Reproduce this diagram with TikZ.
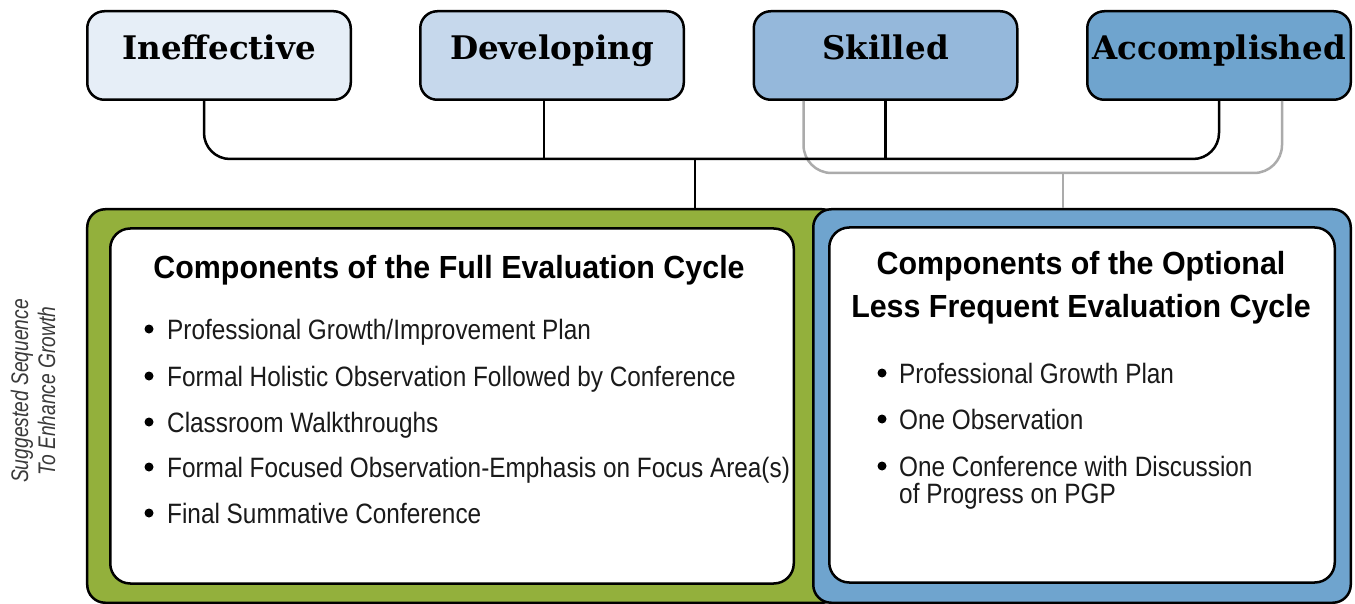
\documentclass[tikz,border=0pt]{standalone}
\usepackage{fontspec}
\newfontfamily\slabfont{DejaVu Serif}
\newfontfamily\titlefont[FakeStretch=0.95]{Liberation Sans}
\newfontfamily\bodyfont[FakeStretch=0.87]{Liberation Sans}
\newfontfamily\sidefont[FakeStretch=0.8]{Liberation Sans}
\definecolor{cIneff}{HTML}{E6EEF7}
\definecolor{cDev}{HTML}{C6D8EC}
\definecolor{cSkill}{HTML}{95B8DB}
\definecolor{cAcc}{HTML}{6FA4CE}
\definecolor{cGreen}{HTML}{93B03C}
\definecolor{cBlue}{HTML}{6FA4CE}
\definecolor{cGray}{HTML}{ABABAB}
\definecolor{cSide}{HTML}{3A3A3A}
\definecolor{cBody}{HTML}{1A1A1A}
\tikzset{
  levelbox/.style={draw=black, line width=2.5pt, rounded corners=17pt,
    minimum width=263.5pt, minimum height=88.5pt, inner sep=0pt},
  levellabel/.style={font=\slabfont\bfseries\fontsize{32.5}{32.5}\selectfont, anchor=base, inner sep=0pt},
  outerbox/.style={draw=black, line width=2.5pt, rounded corners=18pt, minimum height=393.5pt, inner sep=0pt},
  innerbox/.style={draw=black, fill=white, line width=2.5pt, rounded corners=20pt, minimum height=355pt, inner sep=0pt},
  titletext/.style={font=\titlefont\bfseries\fontsize{32}{32}\selectfont, anchor=base, inner sep=0pt},
  itemtext/.style={font=\bodyfont\fontsize{28}{28}\selectfont, text=cBody, anchor=base west, inner sep=0pt},
  blackconn/.style={draw=black, line width=2.5pt},
  grayconn/.style={draw=cGray, line width=2.5pt},
  bulletdot/.style={fill=black}
}
\begin{document}
\begin{tikzpicture}[x=1pt,y=-1pt]
\useasboundingbox[fill=white] (0,0) rectangle (1355,604);

% level boxes
\node[levelbox, fill=cIneff] (ineff) at (219,55.5) {};
\node[levelbox, fill=cDev] (dev) at (552,55.5) {};
\node[levelbox, fill=cSkill] (skill) at (885.5,55.5) {};
\node[levelbox, fill=cAcc] (acc) at (1219,55.5) {};
\node[levellabel] (ineffL) at (219,60) {Ineffective};
\node[levellabel] (devL) at (552,60) {Developing};
\node[levellabel] (skillL) at (885.5,60) {Skilled};
\node[levellabel] (accL) at (1219,60) {Accomplished};

% outer boxes
\node[outerbox, fill=cGreen, minimum width=752.75pt] (fullO) at (463.6,406) {};
\node[outerbox, fill=cBlue, minimum width=537.5pt] (lessO) at (1082,406) {};
\node[innerbox, minimum width=683.5pt] (fullI) at (452,406) {};
\node[innerbox, minimum width=505.5pt] (lessI) at (1082,405) {};

% connectors
\coordinate (gbar) at (1063,173);
\coordinate (bar) at (695,159);
\draw[grayconn, rounded corners=28pt] ([xshift=-82pt]skill.south) |- (gbar) -| ([xshift=63pt]acc.south);
\draw[grayconn] (gbar) -- (gbar |- lessO.north);
\draw[blackconn, rounded corners=26pt] ([xshift=-15pt]ineff.south) |- (bar) -| (acc.south);
\draw[blackconn] ([xshift=-8pt]dev.south) -- ([xshift=-8pt]dev.south |- bar);
\draw[blackconn] (skill.south) -- (skill.south |- bar);
\draw[blackconn] (bar) -- (bar |- fullO.north);

% titles
\node[titletext] (fullT) at (449,278) {Components of the Full Evaluation Cycle};
\node[titletext] (lessT1) at (1081,274) {Components of the Optional};
\node[titletext] (lessT2) at (1081,317) {Less Frequent Evaluation Cycle};

% left list
\fill[bulletdot] (149,329) circle (4.5pt);
\fill[bulletdot] (149,376) circle (4.5pt);
\fill[bulletdot] (149,422) circle (4.5pt);
\fill[bulletdot] (149,467) circle (4.5pt);
\fill[bulletdot] (149,513) circle (4.5pt);
\node[itemtext] (f1) at (167,339) {Professional Growth/Improvement Plan};
\node[itemtext] (f2) at (167,386) {Formal Holistic Observation Followed by Conference};
\node[itemtext] (f3) at (167,432) {Classroom Walkthroughs};
\node[itemtext] (f4) at (167,477) {Formal Focused Observation-Emphasis on Focus Area(s)};
\node[itemtext] (f5) at (167,523) {Final Summative Conference};

% right list
\fill[bulletdot] (882,373) circle (4.5pt);
\fill[bulletdot] (882,419) circle (4.5pt);
\fill[bulletdot] (882,466) circle (4.5pt);
\node[itemtext] (l1) at (899,383) {Professional Growth Plan};
\node[itemtext] (l2) at (899,429) {One Observation};
\node[itemtext] (l3) at (899,476) {One Conference with Discussion};
\node[itemtext] (l3b) at (899,503) {of Progress on PGP};

% side text
\node[rotate=90, align=center, text=cSide, inner sep=0pt,
  font=\sidefont\itshape\fontsize{24}{27}\selectfont] (side) at (33,391)
  {Suggested Sequence\\To Enhance Growth};
\end{tikzpicture}
\end{document}
